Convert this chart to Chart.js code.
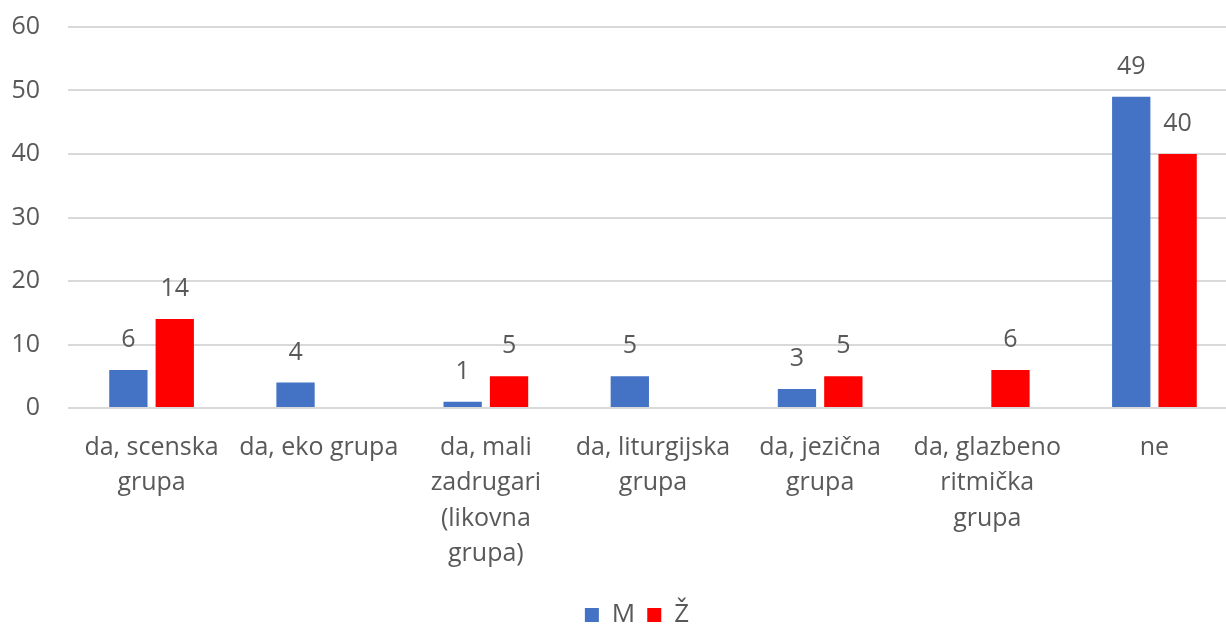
<!DOCTYPE html>
<html>
<head>
<meta charset="utf-8">
<script src="https://cdn.jsdelivr.net/npm/chart.js@4"></script>
<style>
html,body{margin:0;padding:0;background:#fff;overflow:hidden;}
#wrap{width:1226px;height:626px;overflow:hidden;}
</style>
</head>
<body>
<div id="wrap"><canvas id="c" width="1238" height="626"></canvas></div>
<script>
const categories = [
  ['da, scenska','grupa'],
  ['da, eko grupa'],
  ['da, mali','zadrugari','(likovna','grupa)'],
  ['da, liturgijska','grupa'],
  ['da, jezična','grupa'],
  ['da, glazbeno','ritmička','grupa'],
  ['ne']
];
const seriesNames = ['M','Ž'];
const valuesM = [6, 4, 1, 5, 3, 0, 49];
const valuesZ = [14, 0, 5, 0, 5, 6, 40];
const yTicks = [0, 10, 20, 30, 40, 50, 60];

const FONT = "'Open Sans', 'Noto Sans', sans-serif";
const TEXT = '#595959';

const labelPlugin = {
  id: 'barLabels',
  afterLayout(chart) {
    if (chart.legend) { chart.legend.left += 18; chart.legend.right += 18; }
  },
  afterDatasetsDraw(chart) {
    const ctx = chart.ctx;
    ctx.save();
    ctx.font = "25px " + FONT;
    ctx.fillStyle = TEXT;
    ctx.textAlign = 'center';
    ctx.textBaseline = 'alphabetic';
    chart.data.datasets.forEach((ds, i) => {
      const meta = chart.getDatasetMeta(i);
      meta.data.forEach((bar, j) => {
        const v = ds.data[j];
        if (!v) return;
        ctx.fillText(String(v), bar.x, bar.y - 23);
      });
    });
    ctx.restore();
  }
};

new Chart(document.getElementById('c'), {
  type: 'bar',
  data: {
    labels: categories,
    datasets: [
      { label: seriesNames[0], data: valuesM, backgroundColor: '#4472C4', categoryPercentage: 0.555, barPercentage: 0.826 },
      { label: seriesNames[1], data: valuesZ, backgroundColor: '#FF0000', categoryPercentage: 0.555, barPercentage: 0.826 }
    ]
  },
  options: {
    responsive: false,
    animation: false,
    layout: { padding: { top: 27, right: 0, left: 0, bottom: -12 } },
    plugins: {
      legend: {
        position: 'bottom',
        labels: { font: { family: FONT, size: 26 }, color: TEXT, boxWidth: 14, boxHeight: 14, padding: 12 }
      },
      tooltip: { enabled: false }
    },
    scales: {
      x: {
        grid: { display: false },
        border: { display: false },
        ticks: { font: { family: FONT, size: 25, lineHeight: 1.42 }, color: TEXT, maxRotation: 0, autoSkip: false, padding: 14 },
        afterFit(s) { s.height = 182; s.paddingLeft = 0; s.paddingRight = 0; }
      },
      y: {
        min: 0, max: 60,
        afterBuildTicks(s) { s.ticks = yTicks.map(v => ({ value: v })); },
        grid: { color: '#d9d9d9', lineWidth: 2, drawTicks: false },
        border: { display: false },
        ticks: { font: { family: FONT, size: 25 }, color: TEXT, padding: 28 },
        afterFit(s) { s.width = 68; s.paddingTop = 0; s.paddingBottom = 0; }
      }
    }
  },
  plugins: [labelPlugin]
});
</script>
</body>
</html>
